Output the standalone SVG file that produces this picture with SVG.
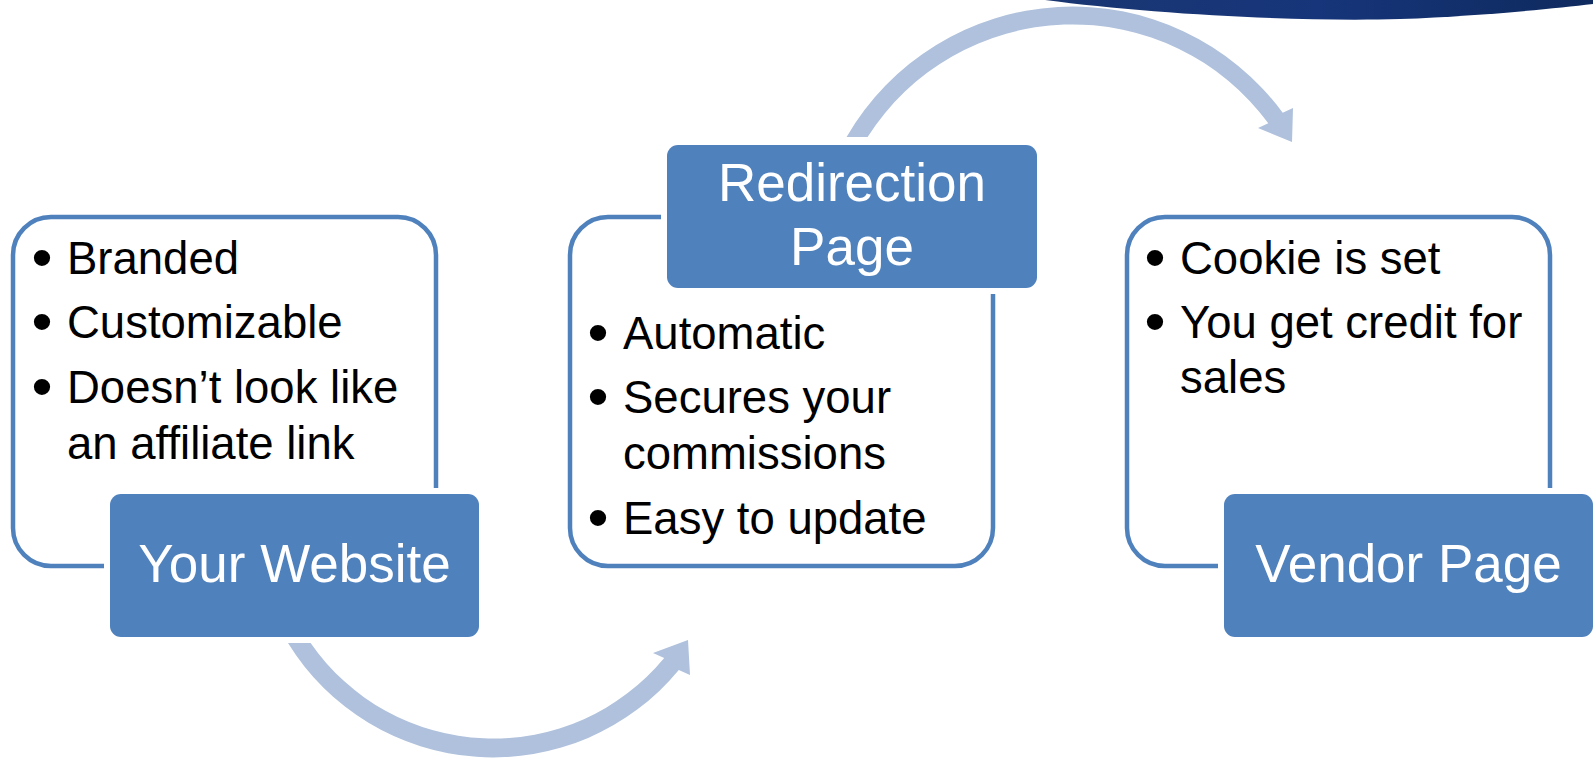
<svg xmlns="http://www.w3.org/2000/svg" width="1593" height="763" viewBox="0 0 1593 763">
<defs>
<linearGradient id="navy" x1="0" y1="0" x2="1" y2="0">
<stop offset="0" stop-color="#1a3672"/>
<stop offset="0.5" stop-color="#16357a"/>
<stop offset="1" stop-color="#0f2a5e"/>
</linearGradient>
<style>
.outline{fill:#ffffff;stroke:#4F81BD;stroke-width:4.5}
.label{fill:#4F81BD;stroke:#ffffff;stroke-width:12;paint-order:stroke}
.arrow{fill:#AFC1DC}
.body{font-family:"Liberation Sans",Arial,sans-serif;font-size:45.5px;fill:#000000}
.bul{font-size:60px;baseline-shift:-4px}
.ltxt{font-family:"Liberation Sans",Arial,sans-serif;font-size:53px;fill:#ffffff;text-anchor:middle}
</style>
</defs>
<rect width="1593" height="763" fill="#ffffff"/>
<path d="M1045,0 C1150,14 1300,22 1400,19 C1480,16 1550,9 1593,4 L1593,0 Z" fill="url(#navy)"/>
<g id="connectors">
<path class="arrow" d="M288,643 L310.6,643 A222,222 0 0,0 664.2,658 L653,653 L688,640 L690,675 L678.8,670 A241,241 0 0,1 288,643 Z"/>
<path class="arrow" d="M846.6,137 A261,261 0 0,1 1282.7,112.7 L1293,108 L1292,142 L1258,128 L1268.3,123.3 A243,243 0 0,0 867.6,137 Z"/>
</g>
<g id="your-website">
<rect class="outline" x="13" y="217" width="423" height="349" rx="38"/>
<text class="body" x="31.5" y="274"><tspan class="bul">•</tspan><tspan x="67">Branded</tspan></text>
<text class="body" x="31.5" y="338"><tspan class="bul">•</tspan><tspan x="67">Customizable</tspan></text>
<text class="body" x="31.5" y="403"><tspan class="bul">•</tspan><tspan x="67">Doesn’t look like</tspan></text>
<text class="body" x="67" y="459">an affiliate link</text>
<rect class="label" x="110" y="494" width="369" height="143" rx="11"/>
<text class="ltxt" x="294.5" y="582">Your Website</text>
</g>
<g id="redirection-page">
<rect class="outline" x="570" y="217" width="423" height="349" rx="38"/>
<text class="body" x="587.5" y="349"><tspan class="bul">•</tspan><tspan x="623">Automatic</tspan></text>
<text class="body" x="587.5" y="413"><tspan class="bul">•</tspan><tspan x="623">Secures your</tspan></text>
<text class="body" x="623" y="469">commissions</text>
<text class="body" x="587.5" y="534"><tspan class="bul">•</tspan><tspan x="623">Easy to update</tspan></text>
<rect class="label" x="667" y="145" width="370" height="143" rx="11"/>
<text class="ltxt" x="852" y="201">Redirection</text>
<text class="ltxt" x="852" y="265">Page</text>
</g>
<g id="vendor-page">
<rect class="outline" x="1127" y="217" width="423" height="349" rx="38"/>
<text class="body" x="1144.5" y="274"><tspan class="bul">•</tspan><tspan x="1180">Cookie is set</tspan></text>
<text class="body" x="1144.5" y="338"><tspan class="bul">•</tspan><tspan x="1180">You get credit for</tspan></text>
<text class="body" x="1180" y="393">sales</text>
<rect class="label" x="1224" y="494" width="369" height="143" rx="11"/>
<text class="ltxt" x="1408.5" y="582">Vendor Page</text>
</g>
</svg>
